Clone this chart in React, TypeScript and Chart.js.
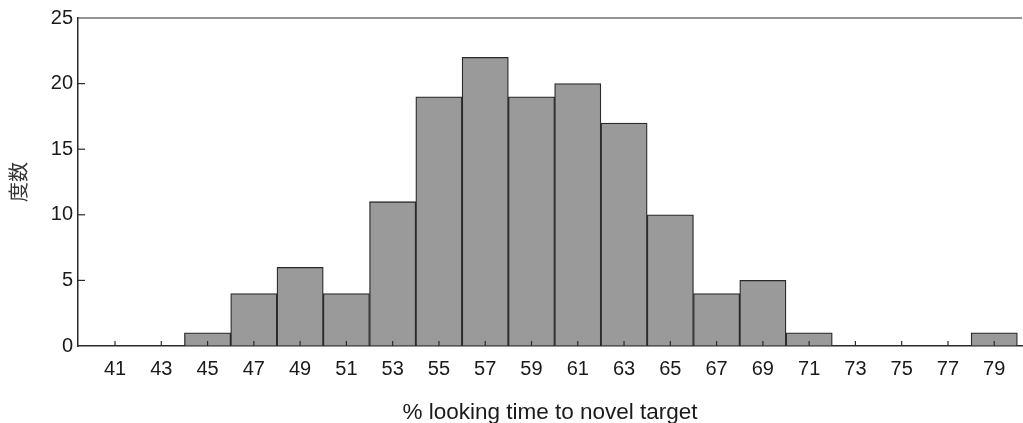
import React, { useEffect, useRef } from "react";
import { Chart, registerables } from "chart.js";

Chart.register(...registerables);

const binCenters = [41, 43, 45, 47, 49, 51, 53, 55, 57, 59, 61, 63, 65, 67, 69, 71, 73, 75, 77, 79];
const frequencies = [0, 0, 1, 4, 6, 4, 11, 19, 22, 19, 20, 17, 10, 4, 5, 1, 0, 0, 0, 1];
const yTicks = [0, 5, 10, 15, 20, 25];
const xTitle = "% looking time to novel target";
const yTitle = "度数";

const inwardTicks = {
  id: "inwardTicks",
  afterDatasetsDraw(chart: any) {
    const { ctx, chartArea, scales } = chart;
    ctx.save();
    ctx.strokeStyle = "#2a2a2a";
    ctx.lineWidth = 1.2;
    ctx.beginPath();
    ctx.moveTo(chartArea.left, chartArea.top);
    ctx.lineTo(chartArea.right, chartArea.top);
    ctx.stroke();
    yTicks.forEach((v) => {
      if (v === 0 || v === 25) return;
      const y = scales.y.getPixelForValue(v);
      ctx.beginPath();
      ctx.moveTo(chartArea.left, y);
      ctx.lineTo(chartArea.left + 7, y);
      ctx.stroke();
    });
    binCenters.forEach((v) => {
      const x = scales.x.getPixelForValue(v);
      ctx.beginPath();
      ctx.moveTo(x, chartArea.bottom);
      ctx.lineTo(x, chartArea.bottom - 5);
      ctx.stroke();
    });
    ctx.restore();
  },
};

export default function App() {
  const ref = useRef<HTMLCanvasElement>(null);
  useEffect(() => {
    if (!ref.current) return;
    const chart = new Chart(ref.current, {
      type: "bar",
      data: {
        datasets: [
          {
            data: binCenters.map((c, i) => ({ x: c, y: frequencies[i] })),
            backgroundColor: "#9a9a9a",
            borderColor: "#2a2a2a",
            borderWidth: 1.3,
            barPercentage: 1,
            categoryPercentage: 1,
          },
        ],
      },
      options: {
        animation: false,
        responsive: false,
        devicePixelRatio: 1,
        layout: { padding: { left: 0, top: 18, right: 1, bottom: 0 } },
        plugins: { legend: { display: false }, tooltip: { enabled: false } },
        scales: {
          x: {
            type: "linear",
            min: 39.4,
            max: 80.2,
            offset: false,
            afterBuildTicks: (scale: any) => {
              scale.ticks = binCenters.map((v) => ({ value: v }));
            },
            afterFit: (scale: any) => {
              scale.height = 77;
            },
            grid: { display: true, drawOnChartArea: false, drawTicks: false },
            border: { display: true, color: "#2a2a2a", width: 1.5 },
            ticks: {
              autoSkip: false,
              maxRotation: 0,
              padding: 11,
              color: "#1a1a1a",
              font: { family: "'Liberation Sans', Arial, sans-serif", size: 20 },
              callback: (v: any) => String(v),
            },
            title: {
              display: true,
              text: xTitle,
              color: "#1a1a1a",
              font: { family: "'Liberation Sans', Arial, sans-serif", size: 22.5 },
              padding: { top: 0, bottom: -3 },
            },
          },
          y: {
            min: 0,
            max: 25,
            afterBuildTicks: (scale: any) => {
              scale.ticks = yTicks.map((v) => ({ value: v }));
            },
            afterFit: (scale: any) => {
              scale.width = 78;
            },
            grid: { display: true, drawOnChartArea: false, drawTicks: false },
            border: { display: true, color: "#2a2a2a", width: 1.5 },
            ticks: {
              padding: 5,
              color: "#1a1a1a",
              font: { family: "'Liberation Sans', Arial, sans-serif", size: 20 },
            },
            title: {
              display: true,
              text: yTitle,
              color: "#333333",
              font: { family: "'Noto Sans CJK JP', sans-serif", size: 20 },
              padding: { top: 6, bottom: 0 },
            },
          },
        },
      },
      plugins: [inwardTicks],
    });
    return () => chart.destroy();
  }, []);
  return (
    <div style={{ position: "absolute", left: 0, top: 0, width: 1023, height: 423, background: "#fff" }}>
      <canvas ref={ref} width={1023} height={423} />
    </div>
  );
}
